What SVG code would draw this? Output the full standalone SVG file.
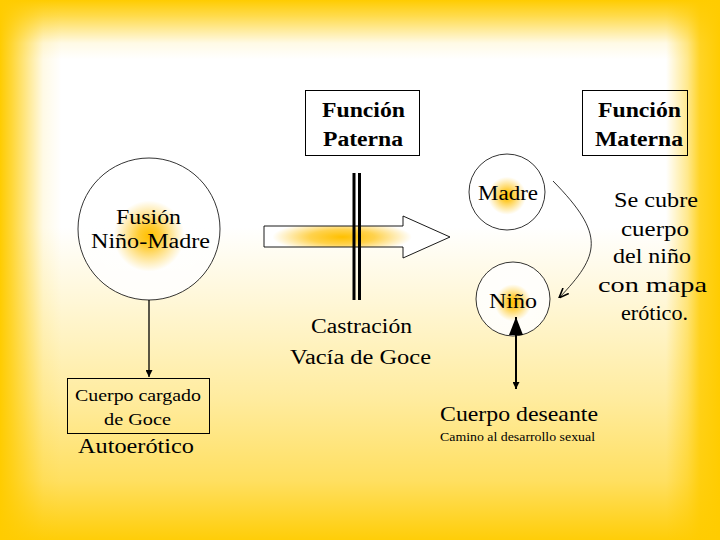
<svg xmlns="http://www.w3.org/2000/svg" width="720" height="540" viewBox="0 0 720 540">
<defs>
<linearGradient id="gTop" x1="0" y1="0" x2="0" y2="540" gradientUnits="userSpaceOnUse">
<stop offset="0" stop-color="#FFCC00" stop-opacity="1"/>
<stop offset="0.03" stop-color="#FFCC00" stop-opacity="0.7"/>
<stop offset="0.08" stop-color="#FFCC00" stop-opacity="0.1"/>
<stop offset="0.11" stop-color="#FFCC00" stop-opacity="0"/>
</linearGradient>
<linearGradient id="gBot" x1="0" y1="0" x2="0" y2="540" gradientUnits="userSpaceOnUse">
<stop offset="0.42" stop-color="#FFCC00" stop-opacity="0"/>
<stop offset="0.56" stop-color="#FFCC00" stop-opacity="0.16"/>
<stop offset="0.74" stop-color="#FFCC00" stop-opacity="0.38"/>
<stop offset="0.89" stop-color="#FFCC00" stop-opacity="0.62"/>
<stop offset="1" stop-color="#FFCC00" stop-opacity="0.97"/>
</linearGradient>
<linearGradient id="gLeft" x1="0" y1="0" x2="720" y2="0" gradientUnits="userSpaceOnUse">
<stop offset="0" stop-color="#FFCC00" stop-opacity="1"/>
<stop offset="0.015" stop-color="#FFCC00" stop-opacity="0.8"/>
<stop offset="0.06" stop-color="#FFCC00" stop-opacity="0.1"/>
<stop offset="0.085" stop-color="#FFCC00" stop-opacity="0"/>
</linearGradient>
<linearGradient id="gRight" x1="0" y1="0" x2="720" y2="0" gradientUnits="userSpaceOnUse">
<stop offset="0.925" stop-color="#FFCC00" stop-opacity="0"/>
<stop offset="0.955" stop-color="#FFCC00" stop-opacity="0.45"/>
<stop offset="0.972" stop-color="#FFCC00" stop-opacity="0.85"/>
<stop offset="1" stop-color="#FFCC00" stop-opacity="1"/>
</linearGradient>
<radialGradient id="gNode" cx="0.5" cy="0.55" r="0.5">
<stop offset="0" stop-color="#FFC000"/>
<stop offset="0.15" stop-color="#FFCC33"/>
<stop offset="0.5" stop-color="#FFFFFF" stop-opacity="0.9"/>
<stop offset="1" stop-color="#FFFFFF" stop-opacity="0.85"/>
</radialGradient>
<radialGradient id="gArrow" cx="0.42" cy="0.5" r="0.5">
<stop offset="0" stop-color="#FFC000"/>
<stop offset="0.35" stop-color="#FFD24D"/>
<stop offset="0.75" stop-color="#FFFFFF"/>
<stop offset="1" stop-color="#FFFFFF"/>
</radialGradient>
<marker id="mFill" viewBox="0 0 10 10" refX="10" refY="5" markerWidth="7" markerHeight="7" markerUnits="userSpaceOnUse" orient="auto">
<path d="M0,0 L10,5 L0,10 z" fill="#000"/>
</marker>
<marker id="mBig" viewBox="0 0 10 10" refX="10" refY="5" markerWidth="18" markerHeight="14" markerUnits="userSpaceOnUse" orient="auto" preserveAspectRatio="none">
<path d="M0,0 L10,5 L0,10 z" fill="#000"/>
</marker>
<marker id="mOpen" viewBox="0 0 10 10" refX="10" refY="5" markerWidth="10" markerHeight="10" markerUnits="userSpaceOnUse" orient="auto">
<path d="M0,1 L10,5 L0,9" fill="none" stroke="#000" stroke-width="1.6"/>
</marker>
</defs>
<style>
text{font-family:"Liberation Serif","DejaVu Serif","Noto Serif",serif;fill:#000;}
.b{font-weight:bold;}
.box{fill:none;stroke:#000;stroke-width:1;}
.circ{fill:url(#gNode);stroke:#000;stroke-width:0.8;}
</style>
<g id="background">
<rect x="0" y="0" width="720" height="540" fill="#FFFFFF"/>
<rect x="0" y="0" width="720" height="540" fill="url(#gBot)"/>
<rect x="0" y="0" width="720" height="540" fill="url(#gTop)"/>
<rect x="0" y="0" width="720" height="540" fill="url(#gLeft)"/>
<rect x="0" y="0" width="720" height="540" fill="url(#gRight)"/>
</g>
<g id="funcion-paterna">
<rect class="box" x="305.5" y="90.5" width="114" height="65"/>
<text class="b" x="322" y="117" font-size="20" textLength="83" lengthAdjust="spacingAndGlyphs">Función</text>
<text class="b" x="323" y="146" font-size="20" textLength="80" lengthAdjust="spacingAndGlyphs">Paterna</text>
</g>
<g id="funcion-materna">
<rect class="box" x="582.5" y="90.5" width="105" height="65"/>
<text class="b" x="598" y="117" font-size="20" textLength="83" lengthAdjust="spacingAndGlyphs">Función</text>
<text class="b" x="595" y="146" font-size="20" textLength="88" lengthAdjust="spacingAndGlyphs">Materna</text>
</g>
<g id="fusion">
<circle class="circ" cx="149" cy="229" r="71"/>
<text x="116" y="224" font-size="20" textLength="65" lengthAdjust="spacingAndGlyphs">Fusión</text>
<text x="91" y="248" font-size="20" textLength="119" lengthAdjust="spacingAndGlyphs">Niño-Madre</text>
</g>
<g id="cuerpo-cargado">
<rect class="box" x="67.5" y="378.5" width="142" height="55"/>
<text x="75" y="401" font-size="17" textLength="126" lengthAdjust="spacingAndGlyphs">Cuerpo cargado</text>
<text x="104" y="425" font-size="17" textLength="67" lengthAdjust="spacingAndGlyphs">de Goce</text>
</g>
<g id="autoerotico">
<text x="78" y="453" font-size="21" textLength="116" lengthAdjust="spacingAndGlyphs">Autoerótico</text>
</g>
<g id="castracion">
<text x="311" y="333" font-size="20" textLength="101" lengthAdjust="spacingAndGlyphs">Castración</text>
<text x="290" y="364" font-size="20" textLength="141" lengthAdjust="spacingAndGlyphs">Vacía de Goce</text>
</g>
<g id="madre">
<circle class="circ" cx="507" cy="192" r="38"/>
<text x="478" y="200" font-size="20" textLength="60" lengthAdjust="spacingAndGlyphs">Madre</text>
</g>
<g id="nino">
<circle class="circ" cx="513" cy="299" r="37"/>
<text x="489" y="308" font-size="20" textLength="48" lengthAdjust="spacingAndGlyphs">Niño</text>
</g>
<g id="cuerpo-deseante">
<text x="440" y="421" font-size="22" textLength="158" lengthAdjust="spacingAndGlyphs">Cuerpo deseante</text>
<text x="440" y="441" font-size="13" textLength="155" lengthAdjust="spacingAndGlyphs">Camino al desarrollo sexual</text>
</g>
<g id="se-cubre">
<text x="614" y="207" font-size="22" textLength="84" lengthAdjust="spacingAndGlyphs">Se cubre</text>
<text x="621" y="236" font-size="22" textLength="68" lengthAdjust="spacingAndGlyphs">cuerpo</text>
<text x="613" y="263" font-size="22" textLength="78" lengthAdjust="spacingAndGlyphs">del niño</text>
<text x="598" y="292" font-size="22" textLength="109" lengthAdjust="spacingAndGlyphs">con mapa</text>
<text x="621" y="320" font-size="22" textLength="67" lengthAdjust="spacingAndGlyphs">erótico.</text>
</g>
<g id="connectors">
<path d="M264,226 L403,226 L403,216 L450,237 L403,258 L403,247 L264,247 z" fill="url(#gArrow)" stroke="#000" stroke-width="0.9"/>
<rect x="352.5" y="173" width="3" height="127" fill="#000"/>
<rect x="358" y="173" width="3" height="127" fill="#000"/>
<line x1="149" y1="300" x2="149" y2="377" stroke="#000" stroke-width="1.3" marker-end="url(#mFill)"/>
<path d="M553,181 C606,235 600,255 559,298" fill="none" stroke="#000" stroke-width="0.8" marker-end="url(#mOpen)"/>
<line x1="516" y1="335" x2="516" y2="389" stroke="#000" stroke-width="2" marker-end="url(#mFill)"/>
<line x1="516" y1="336" x2="516" y2="317" stroke="#000" stroke-width="2" marker-end="url(#mBig)"/>
</g>
</svg>
